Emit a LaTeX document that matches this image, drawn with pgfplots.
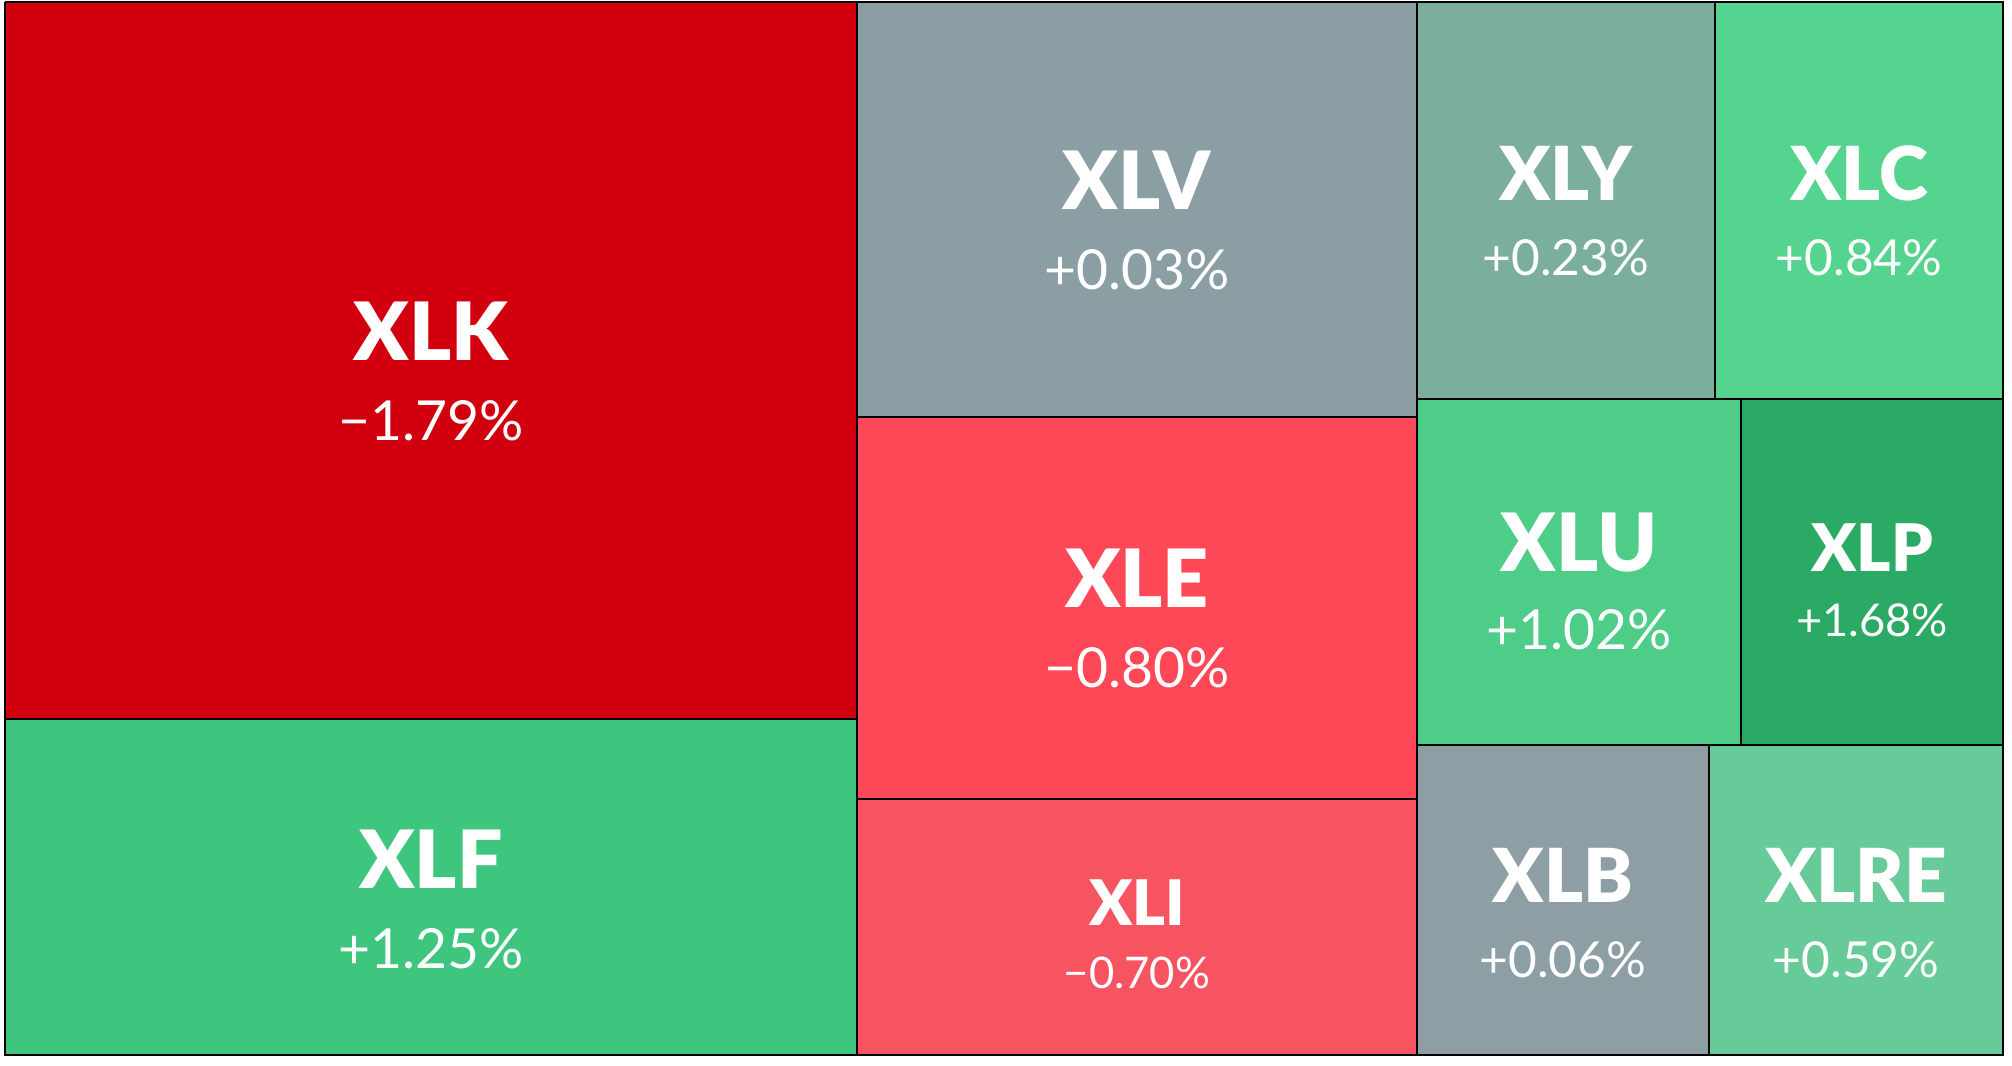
\documentclass[border=0pt]{standalone}
\usepackage{pgfplots}
\pgfplotsset{compat=1.18}
\usepackage{fontspec}
\setmainfont{Lato}
\newfontfamily\tickfont{Lato}[UprightFont={* Black}]
\definecolor{cXLK}{RGB}{210,0,14}
\definecolor{cXLF}{RGB}{62,198,127}
\definecolor{cXLV}{RGB}{139,158,163}
\definecolor{cXLE}{RGB}{255,72,87}
\definecolor{cXLI}{RGB}{247,84,98}
\definecolor{cXLY}{RGB}{124,174,158}
\definecolor{cXLC}{RGB}{85,212,144}
\definecolor{cXLU}{RGB}{78,205,137}
\definecolor{cXLP}{RGB}{43,170,102}
\definecolor{cXLB}{RGB}{141,159,164}
\definecolor{cXLRE}{RGB}{102,203,152}
% tile: x0, x1, y0, y1 (pixels, y from top)
\newcommand{\tile}[5]{\addplot[fill=#5, draw=black, line width=0.5pt, line join=miter] coordinates {(#1,#3) (#2,#3) (#2,#4) (#1,#4) (#1,#3)};}
% label: cx, ticker baseline, ticker size, ticker, value baseline, value size, value
\newcommand{\lab}[7]{%
\node[anchor=base, text=white, inner sep=0pt, font=\tickfont\fontsize{#3}{#3}\selectfont] at (axis cs:#1,#2) {#4};
\node[anchor=base, text=white, inner sep=0pt, font=\fontsize{#6}{#6}\selectfont] at (axis cs:#1,#5) {#7};}
\begin{document}
\begin{tikzpicture}
\begin{axis}[scale only axis, width=503pt, height=266.5pt,
  xmin=0, xmax=2012, ymin=0, ymax=1066, y dir=reverse,
  hide axis, clip=false]
\addplot[draw=none, forget plot] coordinates {(0,0) (2012,1066)};
\tile{5}{857}{2}{719}{cXLK}
\tile{5}{857}{719}{1055}{cXLF}
\tile{857}{1417}{2}{417}{cXLV}
\tile{857}{1417}{417}{799}{cXLE}
\tile{857}{1417}{799}{1055}{cXLI}
\tile{1417}{1715}{2}{399}{cXLY}
\tile{1715}{2003}{2}{399}{cXLC}
\tile{1417}{1741}{399}{745}{cXLU}
\tile{1741}{2003}{399}{745}{cXLP}
\tile{1417}{1709}{745}{1055}{cXLB}
\tile{1709}{2003}{745}{1055}{cXLRE}
\lab{431}{361}{20.1}{XLK}{441}{13.8}{−1.79\%}
\lab{431}{889}{20.1}{XLF}{969}{13.8}{+1.25\%}
\lab{1137}{210}{20.1}{XLV}{290}{13.8}{+0.03\%}
\lab{1137}{608}{20.1}{XLE}{688}{13.8}{−0.80\%}
\lab{1137}{926}{15.7}{XLI}{989}{10.9}{−0.70\%}
\lab{1566}{201}{18.6}{XLY}{276}{12.4}{+0.23\%}
\lab{1859}{201}{18.6}{XLC}{276}{12.4}{+0.84\%}
\lab{1579}{572}{20.1}{XLU}{650}{13.8}{+1.02\%}
\lab{1872}{572}{16.4}{XLP}{637}{11.3}{+1.68\%}
\lab{1563}{903}{18.6}{XLB}{978}{12.4}{+0.06\%}
\lab{1856}{903}{18.6}{XLRE}{978}{12.4}{+0.59\%}
\end{axis}
\end{tikzpicture}
\end{document}
